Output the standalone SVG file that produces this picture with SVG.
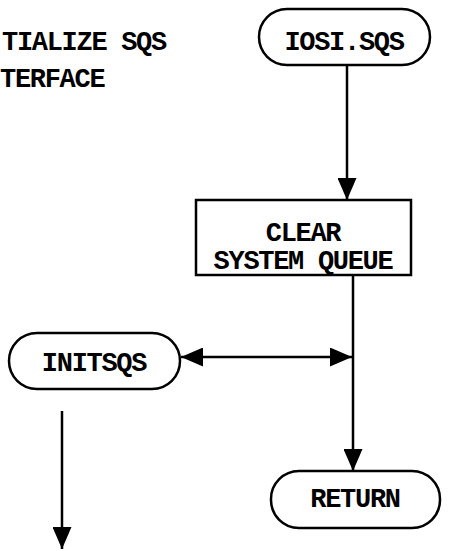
<svg xmlns="http://www.w3.org/2000/svg" width="476" height="551" viewBox="0 0 476 551">
<defs>
<marker id="ahv" markerWidth="22" markerHeight="19" refX="22" refY="9.5" orient="auto-start-reverse" markerUnits="userSpaceOnUse" viewBox="0 0 22 19"><path d="M0,0 L22,9.5 L0,19 Z" fill="#000"/></marker>
<style>
text{font-family:"Liberation Mono","DejaVu Sans Mono",monospace;font-weight:bold;font-size:27px;letter-spacing:-1.3px;fill:#000}
.c{text-anchor:middle}
.n{fill:#fff;stroke:#000;stroke-width:2.5}
.l{stroke:#000;stroke-width:2.5;fill:none}
</style>
</defs>
<rect width="476" height="551" fill="#fff"/>
<g id="title">
<text x="2" y="50">TIALIZE SQS</text>
<text x="0" y="87">TERFACE</text>
</g>
<g id="iosi"><rect class="n" x="259" y="9" width="171" height="56" rx="28"/><text class="c" x="344" y="50">IOSI.SQS</text></g>
<g id="clear"><rect class="n" x="196" y="200" width="215" height="75"/><text class="c" x="303" y="241">CLEAR</text><text class="c" x="303" y="269">SYSTEM QUEUE</text></g>
<g id="initsqs"><rect class="n" x="9" y="333" width="171" height="56" rx="28"/><text class="c" x="94" y="371">INITSQS</text></g>
<g id="return"><rect class="n" x="271" y="471" width="169" height="57" rx="28"/><text class="c" x="355" y="507">RETURN</text></g>
<g id="connectors">
<line class="l" x1="347" y1="65" x2="347" y2="200" marker-end="url(#ahv)"/>
<line class="l" x1="353" y1="275" x2="353" y2="471" marker-end="url(#ahv)"/>
<line class="l" x1="181" y1="357" x2="352" y2="357" marker-start="url(#ahv)" marker-end="url(#ahv)"/>
<line class="l" x1="62" y1="411" x2="62" y2="549" marker-end="url(#ahv)"/>
</g>
</svg>
